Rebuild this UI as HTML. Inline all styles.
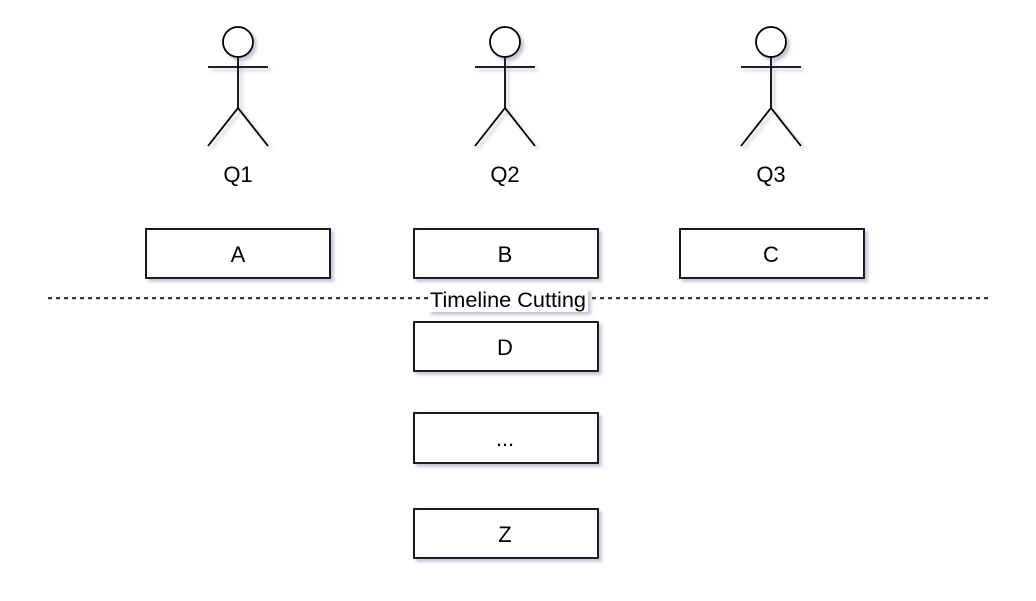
<!DOCTYPE html>
<html><head><meta charset="utf-8"><style>
body{margin:0;background:#fff;width:1036px;height:596px;overflow:hidden}
svg text{font-family:"Liberation Sans",Arial,sans-serif;fill:#000}
</style></head><body>
<svg width="1036" height="596" viewBox="0 0 1036 596" xmlns="http://www.w3.org/2000/svg">
<defs>
<filter id="sh" x="-20%" y="-20%" width="140%" height="160%">
<feGaussianBlur in="SourceAlpha" stdDeviation="1.5"/>
<feOffset dx="3" dy="3" result="o"/>
<feFlood flood-color="#8080a0" flood-opacity="0.45"/>
<feComposite in2="o" operator="in"/>
<feMerge><feMergeNode/><feMergeNode in="SourceGraphic"/></feMerge>
</filter>
<g id="actor" fill="#fff" stroke="#000" stroke-width="1.8">
<circle cx="0" cy="42" r="15"/>
<line x1="0" y1="57" x2="0" y2="108"/>
<line x1="-30" y1="67" x2="30" y2="67"/>
<polyline fill="none" points="-30,146 0,108 30,146"/>
</g>
</defs>
<g filter="url(#sh)">
<use href="#actor" x="238"/>
<use href="#actor" x="505"/>
<use href="#actor" x="771"/>
</g>
<g font-size="22" text-anchor="middle">
<text x="238" y="182">Q1</text>
<text x="505" y="182">Q2</text>
<text x="771" y="182">Q3</text>
</g>
<g fill="#fff" stroke="#000" stroke-width="1.8" filter="url(#sh)">
<rect x="146" y="229" width="184" height="49"/>
<rect x="414" y="229" width="184" height="49"/>
<rect x="680" y="229" width="184" height="49"/>
<rect x="414" y="322" width="184" height="49"/>
<rect x="414" y="413" width="184" height="50"/>
<rect x="414" y="509" width="184" height="49"/>
</g>
<g font-size="22" text-anchor="middle">
<text x="238" y="262">A</text>
<text x="505" y="262">B</text>
<text x="771" y="262">C</text>
<text x="505" y="355">D</text>
<text x="505" y="446">...</text>
<text x="505" y="542">Z</text>
</g>
<line x1="48" y1="299" x2="988" y2="299" stroke="#c8c8d8" stroke-width="2" stroke-dasharray="4 4"/>
<line x1="48" y1="298" x2="988" y2="298" stroke="#000" stroke-width="1.5" stroke-dasharray="4 4"/>
<rect x="428" y="288" width="160" height="24" fill="#fff" filter="url(#sh)"/>
<text x="508" y="307" font-size="21" text-anchor="middle" textLength="156" lengthAdjust="spacingAndGlyphs">Timeline Cutting</text>
</svg>
</body></html>
